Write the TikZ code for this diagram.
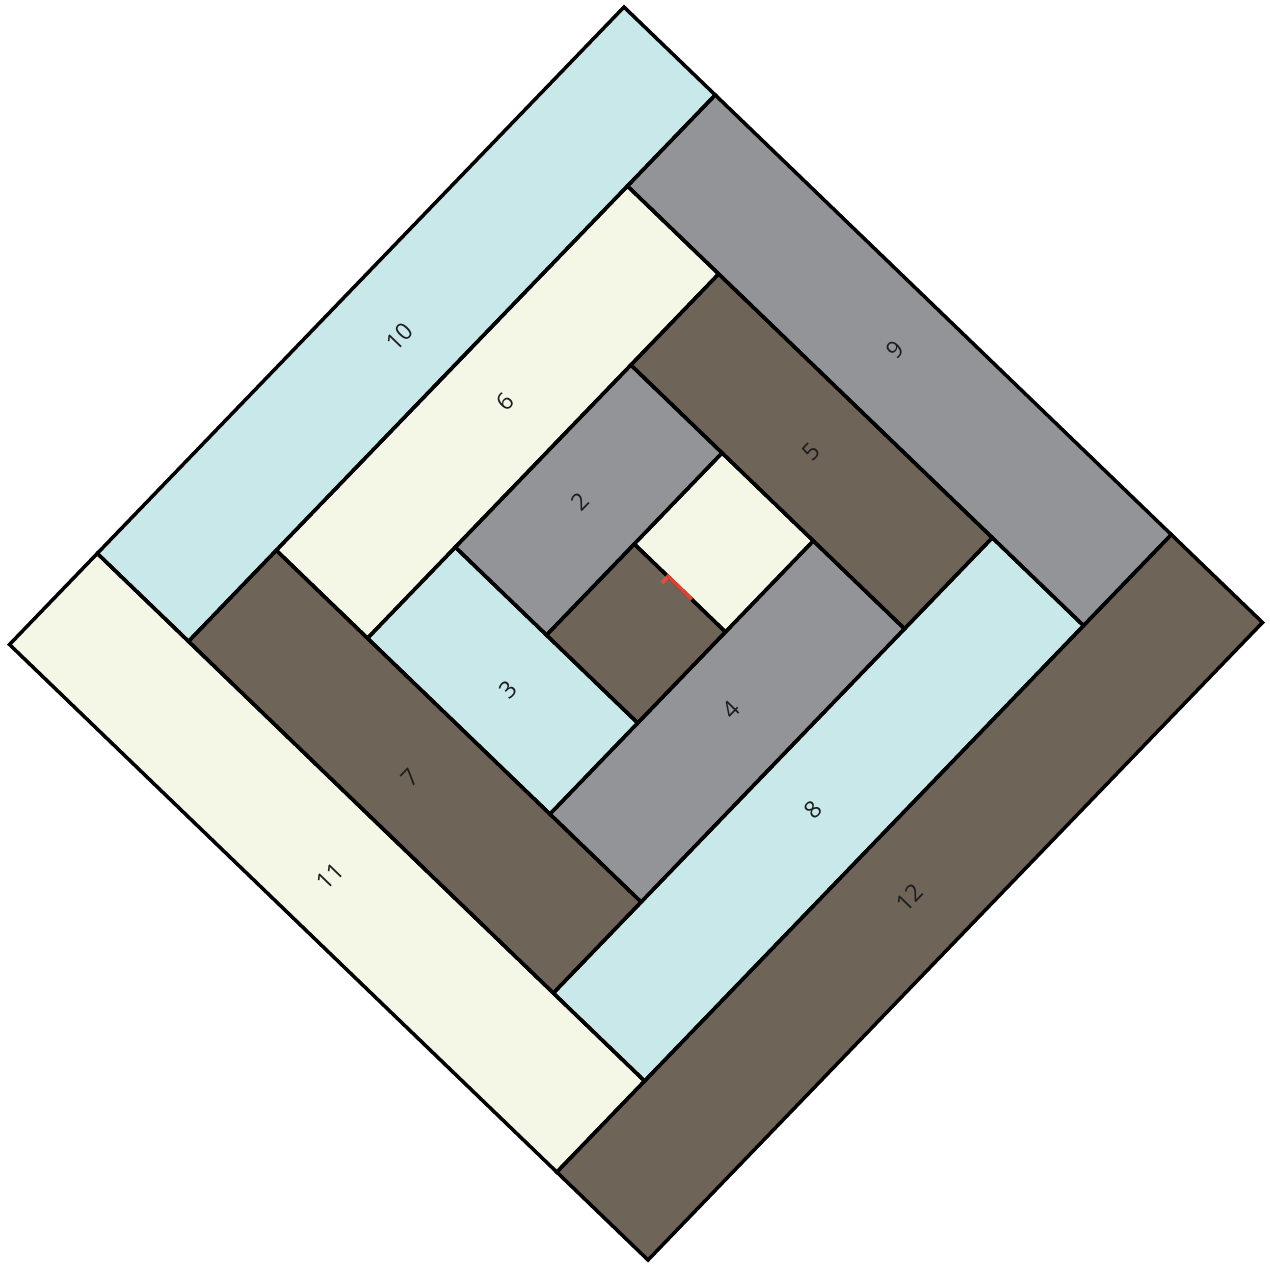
\documentclass[tikz,border=0pt]{standalone}
\usepackage{fontspec}
\setmainfont{Open Sans}
\definecolor{qblue}{RGB}{200,232,234}
\definecolor{qgray}{RGB}{147,148,152}
\definecolor{qbrown}{RGB}{111,100,88}
\definecolor{qcream}{RGB}{244,247,230}
\definecolor{qred}{RGB}{240,75,60}
\definecolor{qtext}{RGB}{30,30,30}
\tikzset{
  patch/.style={draw=black, line width=2pt, line join=miter},
  lab/.style={text=qtext, font=\fontsize{13.5}{15}\selectfont, rotate=46, inner sep=0pt},
  redmark/.style={draw=qred, line width=2.2pt, opacity=0.9}
}
\newcommand\qpiece[5]{\fill[#5] (#1,#2) -- (#3,#2) -- (#3,#4) -- (#1,#4) -- cycle;}
\newcommand\qedge[4]{\draw[patch] (#1,#2) -- (#3,#2) -- (#3,#4) -- (#1,#4) -- cycle;}
\begin{document}
\begin{tikzpicture}
\useasboundingbox (0,0) rectangle (25.4,-25.28);
\begin{scope}[shift={(0.19,-12.89)}, x={(1.7557cm,1.8214cm)}, y={(1.8243cm,-1.7586cm)}]
  % fills
  \qpiece{4}{3}{5}{4}{qcream}
  \qpiece{3}{3}{4}{4}{qbrown}
  \qpiece{3}{2}{5}{3}{qgray}
  \qpiece{2}{2}{3}{4}{qblue}
  \qpiece{2}{4}{5}{5}{qgray}
  \qpiece{5}{2}{6}{5}{qbrown}
  \qpiece{2}{1}{6}{2}{qcream}
  \qpiece{1}{1}{2}{5}{qbrown}
  \qpiece{1}{5}{6}{6}{qblue}
  \qpiece{6}{1}{7}{6}{qgray}
  \qpiece{1}{0}{7}{1}{qblue}
  \qpiece{0}{0}{1}{6}{qcream}
  \qpiece{0}{6}{7}{7}{qbrown}
  % outlines
  \qedge{4}{3}{5}{4}
  \qedge{3}{3}{4}{4}
  \qedge{3}{2}{5}{3}
  \qedge{2}{2}{3}{4}
  \qedge{2}{4}{5}{5}
  \qedge{5}{2}{6}{5}
  \qedge{2}{1}{6}{2}
  \qedge{1}{1}{2}{5}
  \qedge{1}{5}{6}{6}
  \qedge{6}{1}{7}{6}
  \qedge{1}{0}{7}{1}
  \qedge{0}{0}{1}{6}
  \qedge{0}{6}{7}{7}
  % red mark at the centre seam
  \coordinate (m1) at (3.93,3.37);
  \coordinate (m2) at (4,3.37);
  \coordinate (m3) at (4,3.63);
  \draw[redmark] (m1) -- (m2) -- (m3);
  % labels
  \node[lab] (l2)  at (3.94,2.46) {2};
  \node[lab] (l3)  at (2.48,3.08) {3};
  \node[lab] (l4)  at (3.59,4.46) {4};
  \node[lab] (l5)  at (5.50,3.50) {5};
  \node[lab] (l6)  at (4.10,1.49) {6};
  \node[lab] (l7)  at (1.44,3.01) {7};
  \node[lab] (l8)  at (3.47,5.47) {8};
  \node[lab] (l9)  at (6.54,3.42) {9};
  \node[lab] (l10) at (3.89,0.53) {10};
  \node[lab] (l11) at (0.44,3.09) {11};
  \node[lab] (l12) at (3.50,6.50) {12};
\end{scope}
\end{tikzpicture}
\end{document}
